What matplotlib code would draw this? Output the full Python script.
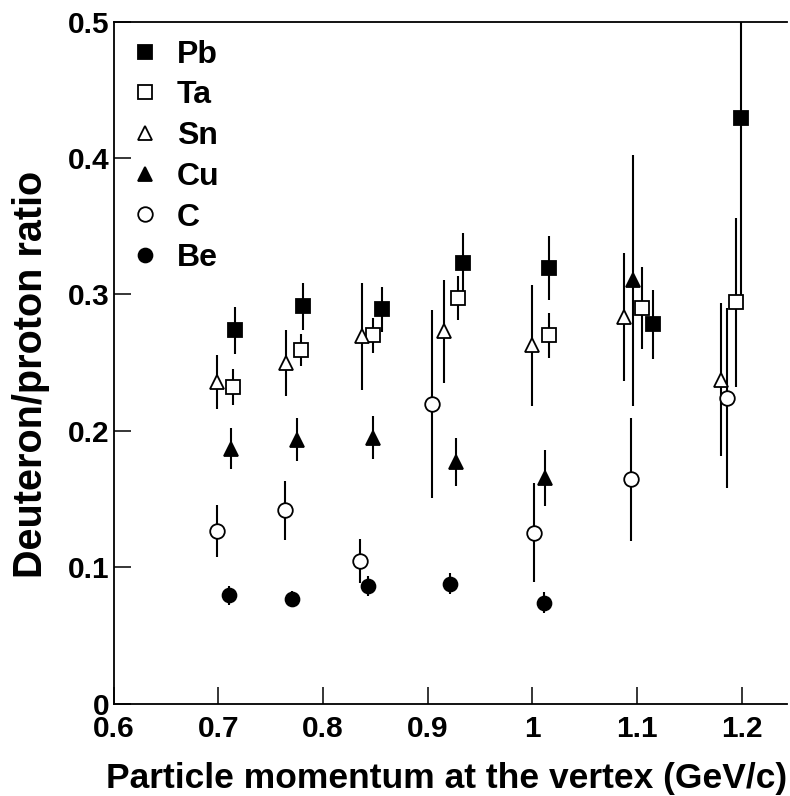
import matplotlib
matplotlib.use("Agg")
import matplotlib.pyplot as plt
from matplotlib.lines import Line2D

plt.rcParams['font.family'] = ['Liberation Sans', 'DejaVu Sans']
plt.rcParams['font.weight'] = 'bold'

# ---- data ----
pb_x = [0.7157, 0.7804, 0.8562, 0.9340, 1.0162, 1.1150, 1.1994]
pb_y = [0.2736, 0.2912, 0.2890, 0.3232, 0.3193, 0.2780, 0.4295]
pb_e = [0.0170, 0.0170, 0.0167, 0.0220, 0.0235, 0.0250, 0.1300]

ta_x = [0.7144, 0.7788, 0.8480, 0.9286, 1.0162, 1.1048, 1.1945]
ta_y = [0.2321, 0.2595, 0.2700, 0.2973, 0.2700, 0.2903, 0.2944]
ta_e = [0.0135, 0.0116, 0.0130, 0.0160, 0.0167, 0.0300, 0.0620]

sn_x = [0.6990, 0.7644, 0.8368, 0.9152, 1.0000, 1.0873, 1.1800]
sn_y = [0.2358, 0.2497, 0.2692, 0.2729, 0.2626, 0.2834, 0.2375]
sn_e = [0.0200, 0.0240, 0.0390, 0.0380, 0.0445, 0.0470, 0.0560]

cu_x = [0.7120, 0.7751, 0.8480, 0.9267, 1.0117, 1.0965]
cu_y = [0.1870, 0.1936, 0.1950, 0.1772, 0.1654, 0.3103]
cu_e = [0.0150, 0.0156, 0.0160, 0.0177, 0.0207, 0.0920]

c_x = [0.6985, 0.7635, 0.8355, 0.9037, 1.0018, 1.0943, 1.1860]
c_y = [0.1264, 0.1418, 0.1046, 0.2199, 0.1254, 0.1645, 0.2240]
c_e = [0.0190, 0.0217, 0.0160, 0.0690, 0.0366, 0.0450, 0.0660]

be_x = [0.7103, 0.7702, 0.8425, 0.9212, 1.0108]
be_y = [0.0795, 0.0766, 0.0861, 0.0880, 0.0741]
be_e = [0.0070, 0.0060, 0.0075, 0.0080, 0.0080]

x_ticks = [0.6, 0.7, 0.8, 0.9, 1.0, 1.1, 1.2]
x_tick_labels = ['0.6', '0.7', '0.8', '0.9', '1', '1.1', '1.2']
y_ticks = [0.0, 0.1, 0.2, 0.3, 0.4, 0.5]
y_tick_labels = ['0', '0.1', '0.2', '0.3', '0.4', '0.5']

series = [
    ('Pb', pb_x, pb_y, pb_e, 's', 'black', 10),
    ('Ta', ta_x, ta_y, ta_e, 's', 'white', 10),
    ('Sn', sn_x, sn_y, sn_e, '^', 'white', 10.5),
    ('Cu', cu_x, cu_y, cu_e, '^', 'black', 9.5),
    ('C', c_x, c_y, c_e, 'o', 'white', 10.5),
    ('Be', be_x, be_y, be_e, 'o', 'black', 10),
]

fig = plt.figure(figsize=(7.9, 7.96), dpi=100)
ax = fig.add_axes([113.7 / 790, (796 - 703.6) / 796, (787 - 113.7) / 790, (703.6 - 21.7) / 796])

handles = []
for name, xs, ys, es, mk, fc, ms in series:
    ax.errorbar(xs, ys, yerr=es, fmt=mk, color='black', mfc=fc, mec='black',
                ms=ms, mew=1.3, elinewidth=1.5, capsize=0, zorder=3)
    handles.append(Line2D([], [], linestyle='none', marker=mk, color='black',
                          mfc=fc, mec='black', ms=ms, mew=1.3, label=name))

ax.set_xlim(0.6, 0.6 + (787 - 113.7) / 1046.7)
ax.set_ylim(0, 0.5)
ax.set_xticks(x_ticks)
ax.set_xticklabels(x_tick_labels)
ax.set_yticks(y_ticks)
ax.set_yticklabels(y_tick_labels)
ax.tick_params(direction='in', length=12, width=1.1, labelsize=21.5, top=False, right=False)
ax.tick_params(axis='y', pad=3)
ax.tick_params(axis='x', pad=8)
for lab in ax.get_xticklabels() + ax.get_yticklabels():
    lab.set_fontweight('bold')

ax.spines['right'].set_visible(False)
for s in ['left', 'bottom', 'top']:
    ax.spines[s].set_linewidth(1.3)

ax.set_xlabel('Particle momentum at the vertex (GeV/c)', fontsize=25.5, fontweight='bold',
              loc='right', labelpad=14)
ax.set_ylabel('Deuteron/proton ratio', fontsize=28.5, fontweight='bold')
ax.yaxis.set_label_coords(-0.0946, 0.482)

leg = ax.legend(handles=handles, loc='upper left', bbox_to_anchor=(0.0227, 0.9736),
                frameon=False, fontsize=23, handlelength=1.0, handletextpad=0.5,
                labelspacing=0.335, borderaxespad=0, borderpad=0)
for t in leg.get_texts():
    t.set_fontweight('bold')

fig.savefig('out.png', dpi=100)
